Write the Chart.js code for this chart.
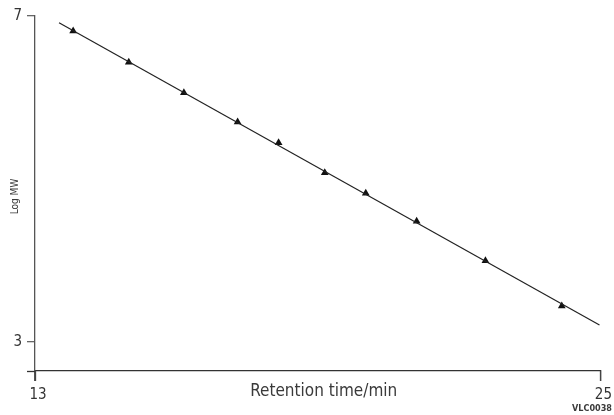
<!DOCTYPE html>
<html>
<head>
<meta charset="utf-8">
<script src="https://cdn.jsdelivr.net/npm/chart.js@4/dist/chart.umd.min.js"></script>
<style>
html,body{margin:0;padding:0;background:#fff;}
#wrap{width:614px;height:415px;position:relative;}
</style>
</head>
<body>
<div id="wrap"><canvas id="c" width="614" height="415"></canvas></div>
<script>
// Data
const retentionTime = [13.81, 14.99, 16.16, 17.30, 18.17, 19.15, 20.02, 21.10, 22.56, 24.18];
const logMW        = [6.816, 6.432, 6.059, 5.699, 5.445, 5.077, 4.825, 4.481, 3.998, 3.442];
const fitLineX = [13.51, 24.98];
const fitLineY = [6.918, 3.209];
const xTickValues = [13, 25];
const yTickValues = [3, 7];
const xTitle = 'Retention time/min';
const yTitle = 'Log MW';
const figureCode = 'VLC0038';

const FONT = '"DejaVu Sans Condensed", "Liberation Sans Narrow", "Liberation Sans", sans-serif';

const titlesPlugin = {
  id: 'titles',
  afterDraw(chart) {
    const ctx = chart.ctx;
    const a = chart.chartArea;
    const xs = chart.scales.x;
    ctx.save();
    // x tick marks (below the axis)
    ctx.strokeStyle = '#444';
    ctx.lineWidth = 1.3;
    xTickValues.forEach(v => {
      const px = Math.round(xs.getPixelForValue(v)) + 0.5;
      ctx.beginPath();
      ctx.moveTo(px, a.bottom);
      ctx.lineTo(px, a.bottom + 10);
      ctx.stroke();
    });
    // small extension of x axis line to the left of the y axis
    ctx.strokeStyle = '#333';
    ctx.beginPath();
    ctx.moveTo(a.left - 8, a.bottom + 0.5);
    ctx.lineTo(a.left, a.bottom + 0.5);
    ctx.stroke();

    ctx.fillStyle = '#3a3a3a';
    ctx.font = '17px ' + FONT;
    ctx.textAlign = 'center';
    ctx.textBaseline = 'middle';
    ctx.fillText(xTitle, (a.left + a.right) / 2 + 6, a.bottom + 21);
    ctx.save();
    ctx.translate(15, (a.top + a.bottom) / 2 + 3);
    ctx.rotate(-Math.PI / 2);
    ctx.font = '10px ' + FONT;
    ctx.fillText(yTitle, 0, 0);
    ctx.restore();
    ctx.font = 'bold 9px ' + FONT;
    ctx.textAlign = 'right';
    ctx.fillText(figureCode, chart.width - 2, chart.height - 6);
    ctx.restore();
  }
};

new Chart(document.getElementById('c'), {
  type: 'scatter',
  data: {
    datasets: [
      {
        label: 'fit',
        data: fitLineX.map((x, i) => ({x, y: fitLineY[i]})),
        showLine: true,
        borderColor: '#222',
        borderWidth: 1.2,
        pointRadius: 0,
        fill: false
      },
      {
        label: 'standards',
        data: retentionTime.map((x, i) => ({x, y: logMW[i]})),
        pointStyle: 'triangle',
        pointRadius: 4.5,
        backgroundColor: '#111',
        borderColor: '#111',
        borderWidth: 0,
        showLine: false
      }
    ]
  },
  plugins: [titlesPlugin],
  options: {
    responsive: false,
    animation: false,
    layout: { padding: { top: 16, right: 10, left: 0, bottom: 0 } },
    plugins: { legend: { display: false }, tooltip: { enabled: false } },
    scales: {
      x: {
        type: 'linear',
        min: 13, max: 25,
        afterBuildTicks(scale) { scale.ticks = xTickValues.map(v => ({value: v})); },
        afterFit(scale) { scale.height = 44; },
        grid: { drawOnChartArea: false, drawTicks: true, tickLength: 10, color: '#555', lineWidth: 1.3 },
        border: { display: true, color: '#333', width: 1.3 },
        ticks: { color: '#333', font: { family: FONT, size: 15 }, padding: 5, maxRotation: 0, autoSkip: false, labelOffset: 3 }
      },
      y: {
        type: 'linear',
        min: 2.644, max: 7,
        afterBuildTicks(scale) { scale.ticks = yTickValues.map(v => ({value: v})); },
        afterFit(scale) { scale.width = 35; },
        grid: { drawOnChartArea: false, drawTicks: true, tickLength: 8, color: '#666', lineWidth: 1.3 },
        border: { display: true, color: '#555', width: 1.3 },
        ticks: { color: '#333', font: { family: FONT, size: 15 }, padding: 5, autoSkip: false }
      }
    }
  }
});
</script>
</body>
</html>
